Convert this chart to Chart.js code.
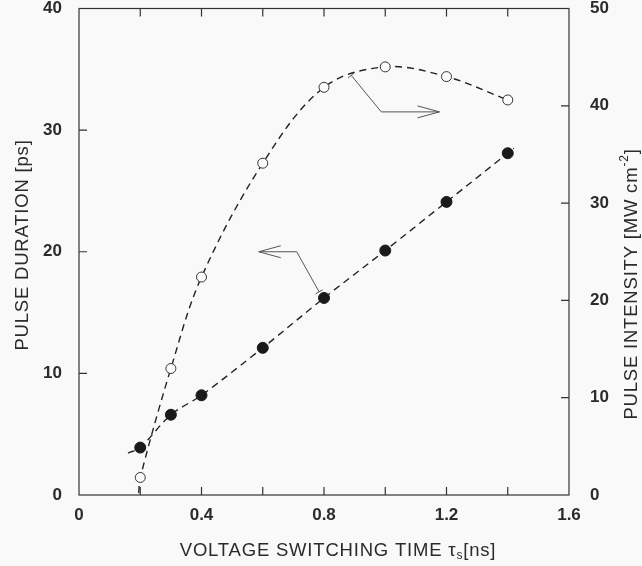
<!DOCTYPE html>
<html>
<head>
<meta charset="utf-8">
<script src="https://cdn.jsdelivr.net/npm/chart.js@4.4.1/dist/chart.umd.min.js"></script>
<style>
  html, body { margin: 0; padding: 0; background: #f9f9f9; }
  #wrap { position: relative; width: 642px; height: 566px; }
</style>
</head>
<body>
<div id="wrap"><canvas id="chart"></canvas></div>
<script>
// voltage switching time [ns]
const tau = [0.2, 0.3, 0.4, 0.6, 0.8, 1.0, 1.2, 1.4];
// filled circles, left axis [ps]
const pulseDuration = [3.9, 6.6, 8.2, 12.1, 16.2, 20.1, 24.1, 28.1];
// open circles, right axis [MW cm-2]
const pulseIntensity = [1.8, 13.0, 22.4, 34.1, 41.9, 44.0, 43.0, 40.6];
// where the dashed guide curves end beyond the points
const durationCurveStart = [0.16, 3.45];
const durationCurveEnd = [1.42, 28.5];
const intensityCurveStart = [0.195, 0.2];

const xMinorTicks = [0.2, 0.4, 0.6, 0.8, 1.0, 1.2, 1.4];
const leftTicks = [10, 20, 30];
const rightTicks = [10, 20, 30, 40];

// arrows in (tau, pulse duration) coords, head at the last point
const arrowToIntensity = [[0.889, 34.5], [0.987, 31.5], [1.177, 31.5]];
const arrowToDuration = [[0.784, 16.7], [0.711, 20.0], [0.587, 20.0]];

const INK = '#2b2b2b';
const FONT = 'Liberation Sans, Arial, sans-serif';

const pts = (xs, ys) => xs.map((x, i) => ({ x, y: ys[i] }));

const durationCurve = [{ x: durationCurveStart[0], y: durationCurveStart[1] },
  ...pts(tau, pulseDuration), { x: durationCurveEnd[0], y: durationCurveEnd[1] }];
const intensityCurve = [{ x: intensityCurveStart[0], y: intensityCurveStart[1] },
  ...pts(tau, pulseIntensity)];

const framePlugin = {
  id: 'frame',
  beforeDatasetsDraw(chart) {
    const { ctx, chartArea: a, scales } = chart;
    const len = 8;
    ctx.save();
    ctx.strokeStyle = '#333';
    ctx.lineWidth = 1.2;
    ctx.strokeRect(a.left, a.top, a.right - a.left, a.bottom - a.top);
    ctx.beginPath();
    xMinorTicks.forEach(v => {
      const px = scales.x.getPixelForValue(v);
      ctx.moveTo(px, a.bottom); ctx.lineTo(px, a.bottom - len);
      ctx.moveTo(px, a.top); ctx.lineTo(px, a.top + len);
    });
    leftTicks.forEach(v => {
      const py = scales.y.getPixelForValue(v);
      ctx.moveTo(a.left, py); ctx.lineTo(a.left + len, py);
    });
    rightTicks.forEach(v => {
      const py = scales.y2.getPixelForValue(v);
      ctx.moveTo(a.right, py); ctx.lineTo(a.right - len, py);
    });
    ctx.stroke();
    ctx.restore();
  },
  afterDatasetsDraw(chart) {
    const { ctx, scales } = chart;
    const toPx = p => [scales.x.getPixelForValue(p[0]), scales.y.getPixelForValue(p[1])];
    ctx.save();
    ctx.strokeStyle = '#555';
    ctx.lineWidth = 1;
    [arrowToIntensity, arrowToDuration].forEach(path => {
      const p = path.map(toPx);
      ctx.beginPath();
      ctx.moveTo(p[0][0], p[0][1]);
      p.slice(1).forEach(q => ctx.lineTo(q[0], q[1]));
      ctx.stroke();
      // little cross mark where the pointer leaves the curve
      const dx = p[1][0] - p[0][0], dy = p[1][1] - p[0][1];
      const l = Math.hypot(dx, dy);
      const nx = -dy / l * 4, ny = dx / l * 4;
      ctx.beginPath();
      ctx.moveTo(p[0][0] - nx, p[0][1] - ny);
      ctx.lineTo(p[0][0] + nx, p[0][1] + ny);
      ctx.stroke();
      // open arrow head
      const tip = p[p.length - 1], prev = p[p.length - 2];
      const dir = Math.sign(tip[0] - prev[0]);
      ctx.beginPath();
      ctx.moveTo(tip[0] - dir * 22, tip[1] - 6);
      ctx.lineTo(tip[0], tip[1]);
      ctx.lineTo(tip[0] - dir * 22, tip[1] + 6);
      ctx.stroke();
    });
    ctx.restore();
  },
  afterDraw(chart) {
    const { ctx } = chart;
    ctx.save();
    ctx.fillStyle = INK;
    ctx.textBaseline = 'middle';
    ctx.letterSpacing = '0.8px';
    const big = `18.5px ${FONT}`, small = `12px ${FONT}`;

    const drawRun = (runs, cx, cy) => {
      let w = 0;
      runs.forEach(r => { ctx.font = r[1]; w += ctx.measureText(r[0]).width; });
      let x = cx - w / 2;
      ctx.textAlign = 'left';
      runs.forEach(r => { ctx.font = r[1]; ctx.fillText(r[0], x, cy + r[2]); x += ctx.measureText(r[0]).width; });
    };
    // bottom title, tau with subscript s
    drawRun([['VOLTAGE SWITCHING TIME \u03c4', big, 0], ['s', small, 5], ['[ns]', big, 0]], 338, 551);

    ctx.translate(23, 245);
    ctx.rotate(-Math.PI / 2);
    drawRun([['PULSE DURATION [ps]', big, 0]], 0, 0);
    ctx.setTransform(1, 0, 0, 1, 0, 0);

    ctx.translate(632, 284);
    ctx.rotate(-Math.PI / 2);
    drawRun([['PULSE INTENSITY [MW cm', big, 0], ['-2', small, -7], [']', big, 0]], 0, 0);
    ctx.restore();
  }
};

const tickFont = { family: FONT, size: 17, weight: 'bold', lineHeight: 1 };
// invisible tick marks only push the labels away from the frame
const hiddenTicks = len => ({
  display: true, drawOnChartArea: false, drawTicks: true,
  tickLength: len, tickColor: 'rgba(0,0,0,0)'
});

new Chart(document.getElementById('chart'), {
  type: 'scatter',
  data: {
    datasets: [
      {
        data: pts(tau, pulseDuration), yAxisID: 'y', order: 1,
        pointRadius: 5.5, pointBackgroundColor: '#1a1a1a', pointBorderColor: '#1a1a1a', pointBorderWidth: 1
      },
      {
        data: pts(tau, pulseIntensity), yAxisID: 'y2', order: 1,
        pointRadius: 5, pointBackgroundColor: '#fbfbfb', pointBorderColor: '#333', pointBorderWidth: 1
      },
      {
        data: durationCurve, yAxisID: 'y', order: 2, showLine: true, pointRadius: 0,
        borderColor: '#222', borderWidth: 1.4, borderDash: [7, 5], tension: 0.3
      },
      {
        data: intensityCurve, yAxisID: 'y2', order: 2, showLine: true, pointRadius: 0,
        borderColor: '#222', borderWidth: 1.4, borderDash: [7, 5], tension: 0.35
      }
    ]
  },
  options: {
    responsive: true,
    maintainAspectRatio: false,
    animation: false,
    layout: { padding: { top: 8, left: 0, right: 0, bottom: 0 } },
    plugins: { legend: { display: false }, tooltip: { enabled: false } },
    scales: {
      x: {
        type: 'linear', min: 0, max: 1.6,
        grid: hiddenTicks(12), border: { display: false },
        ticks: { stepSize: 0.4, padding: 0, color: INK, font: tickFont,
          callback: v => +v.toFixed(1) },
        afterFit: s => { s.height = 71; }
      },
      y: {
        position: 'left', min: 0, max: 40,
        grid: hiddenTicks(17), border: { display: false },
        ticks: { stepSize: 10, padding: 0, color: INK, font: tickFont },
        afterFit: s => { s.width = 79; }
      },
      y2: {
        position: 'right', min: 0, max: 50,
        grid: hiddenTicks(21), border: { display: false },
        ticks: { stepSize: 10, padding: 0, color: INK, font: tickFont },
        afterFit: s => { s.width = 73; }
      }
    }
  },
  plugins: [framePlugin]
});
</script>
</body>
</html>
